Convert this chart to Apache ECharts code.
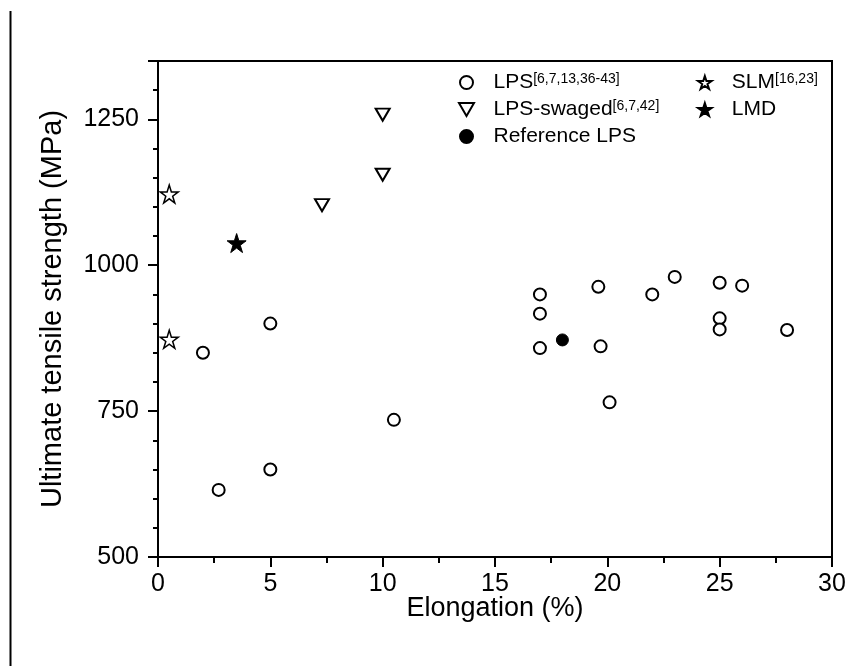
<!DOCTYPE html>
<html>
<head>
<meta charset="utf-8">
<script src="https://cdn.jsdelivr.net/npm/echarts@6/dist/echarts.min.js"></script>
<style>
  html, body { margin: 0; padding: 0; background: #fff; }
  #chart { width: 849px; height: 666px; }
</style>
</head>
<body>
<div id="chart"></div>
<script>
// elongation (%) / UTS (MPa)
const lpsX = [2, 2.7, 5, 5, 10.5, 17, 17, 17, 19.6, 19.7, 20.1, 22, 23, 25, 25, 25, 26, 28];
const lpsY = [850, 615, 900, 650, 735, 950, 917, 858, 963, 861, 765, 950, 980, 970, 909, 890, 965, 889];
const swagedX = [7.3, 10, 10];
const swagedY = [1103, 1155, 1258];
const refX = [18];
const refY = [872];
const slmX = [0.5, 0.5];
const slmY = [1122, 873];
const lmdX = [3.5];
const lmdY = [1038];

const names = ['LPS', 'LPS-swaged', 'Reference LPS', 'SLM', 'LMD'];
const refs = { 'LPS': '[6,7,13,36-43]', 'LPS-swaged': '[6,7,42]', 'SLM': '[16,23]' };

const STAR = 'path://M50 0 L61.23 34.55 L97.55 34.55 L68.17 55.9 L79.39 90.45 L50 69.1 L20.61 90.45 L31.83 55.9 L2.45 34.55 L38.77 34.55 Z';
const TRI_DOWN = 'path://M0 0 L12 0 L6 10.4 Z';
const FONT = 'Arial, "Liberation Sans", sans-serif';

function pairs(xs, ys) {
  return xs.map((x, i) => [x, ys[i]]);
}

const chart = echarts.init(document.getElementById('chart'));

const legendText = {
  fontFamily: FONT,
  fontSize: 21,
  color: '#000',
  rich: {
    t: { fontSize: 21, color: '#000', fontFamily: FONT },
    s: { fontSize: 14, color: '#000', verticalAlign: 'top', fontFamily: FONT }
  }
};
function legendFmt(name) {
  return refs[name] ? '{t|' + name + '}{s|' + refs[name] + '}' : '{t|' + name + '}';
}

const option = {
  backgroundColor: '#fff',
  animation: false,
  grid: {
    left: 158, right: 17, top: 61, bottom: 109,
    show: true, borderColor: '#000', borderWidth: 2
  },
  legend: [
    {
      data: names.slice(0, 3),
      orient: 'vertical',
      left: 453, top: 67,
      itemWidth: 44, itemHeight: 13, itemGap: 6,
      formatter: legendFmt,
      textStyle: legendText,
      selectedMode: false
    },
    {
      data: names.slice(3),
      orient: 'vertical',
      left: 692, top: 67,
      itemWidth: 44, itemHeight: 13, itemGap: 6,
      formatter: legendFmt,
      textStyle: legendText,
      selectedMode: false
    }
  ],
  xAxis: {
    type: 'value',
    min: 0, max: 30, interval: 5,
    name: 'Elongation (%)',
    nameLocation: 'middle',
    nameGap: 38,
    nameMoveOverlap: false,
    nameTextStyle: { fontSize: 27, color: '#000', fontFamily: FONT },
    axisLine: { show: true, lineStyle: { color: '#000', width: 2 } },
    axisTick: { show: true, inside: false, length: 10, lineStyle: { color: '#000', width: 2 } },
    minorTick: { show: true, splitNumber: 2, length: 6, lineStyle: { color: '#000', width: 2 } },
    axisLabel: { fontSize: 25, color: '#000', margin: 15, fontFamily: FONT },
    splitLine: { show: false }
  },
  yAxis: {
    type: 'value',
    min: 500, max: 1350, interval: 250,
    name: 'Ultimate tensile strength (MPa)',
    nameLocation: 'middle',
    nameGap: 91,
    nameMoveOverlap: false,
    nameTextStyle: { fontSize: 29, color: '#000', fontFamily: FONT },
    axisLine: { show: true, lineStyle: { color: '#000', width: 2 } },
    axisTick: { show: true, inside: false, length: 10, lineStyle: { color: '#000', width: 2 } },
    minorTick: { show: true, splitNumber: 5, length: 5, lineStyle: { color: '#000', width: 2 } },
    axisLabel: {
      fontSize: 25, color: '#000', margin: 19, showMaxLabel: false, fontFamily: FONT,
      formatter: v => String(v)
    },
    splitLine: { show: false }
  },
  graphic: [
    { type: 'line', shape: { x1: 10.5, y1: 11, x2: 10.5, y2: 666 }, style: { stroke: '#000', lineWidth: 2 } }
  ],
  series: [
    {
      name: 'LPS', type: 'scatter', symbol: 'circle', symbolSize: 12,
      itemStyle: { color: '#fff', borderColor: '#000', borderWidth: 2, opacity: 1 },
      data: pairs(lpsX, lpsY)
    },
    {
      name: 'LPS-swaged', type: 'scatter', symbol: TRI_DOWN, symbolSize: [14, 12],
      itemStyle: { color: '#fff', borderColor: '#000', borderWidth: 2, opacity: 1 },
      data: pairs(swagedX, swagedY)
    },
    {
      name: 'Reference LPS', type: 'scatter', symbol: 'circle', symbolSize: 12,
      itemStyle: { color: '#000', borderColor: '#000', borderWidth: 1, opacity: 1 },
      data: pairs(refX, refY)
    },
    {
      name: 'SLM', type: 'scatter', symbol: STAR, symbolSize: 18,
      itemStyle: { color: '#fff', borderColor: '#000', borderWidth: 1.5, opacity: 1 },
      data: pairs(slmX, slmY)
    },
    {
      name: 'LMD', type: 'scatter', symbol: STAR, symbolSize: 19,
      itemStyle: { color: '#000', borderColor: '#000', borderWidth: 1, opacity: 1 },
      data: pairs(lmdX, lmdY)
    }
  ]
};

chart.setOption(option);
</script>
</body>
</html>
